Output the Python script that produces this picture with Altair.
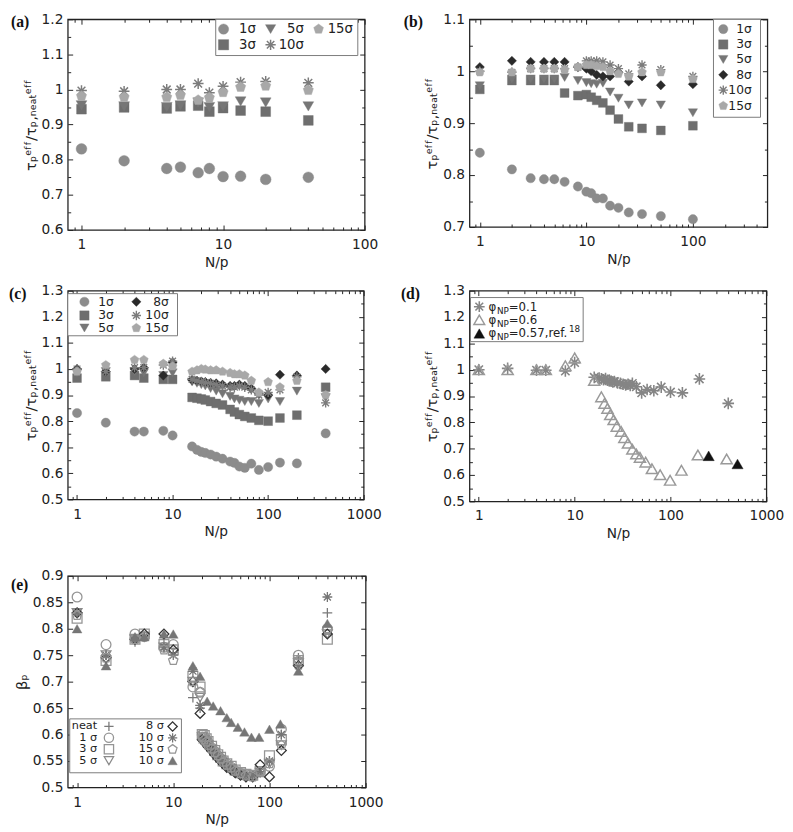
import altair as alt
import pandas as pd

SANS = "DejaVu Sans"
SERIF = "Liberation Serif"
INK = "#222222"
FS = 14
MAJ, MIN = 5, 3

ASTER = "M-1,0L1,0M0,-1L0,1M-0.72,-0.72L0.72,0.72M-0.72,0.72L0.72,-0.72"
PENTA = "M0,-1L0.951,-0.309L0.588,0.809L-0.588,0.809L-0.951,-0.309Z"
PLUS = "M-1,0L1,0M0,-1L0,1"

# ---------------- data ----------------
# panel (a)
A_X = [1, 2, 4, 5, 6.67, 8, 10, 13.3, 20, 40]
A_1 = [0.831, 0.797, 0.775, 0.779, 0.763, 0.775, 0.752, 0.753, 0.744, 0.750]
A_3 = [0.944, 0.949, 0.946, 0.952, 0.954, 0.937, 0.947, 0.940, 0.937, 0.912]
A_5 = [0.955, 0.952, 0.950, 0.955, 0.963, 0.950, 0.952, 0.966, 0.963, 0.952]
A_10 = [0.997, 0.995, 1.000, 1.000, 1.017, 0.991, 1.009, 1.021, 1.023, 1.019]
A_15 = [0.981, 0.978, 0.978, 0.984, 0.970, 0.977, 0.992, 1.007, 1.010, 0.998]

# panel (b)
B_X = [1, 2, 3, 4, 5, 6.25, 8.33, 10, 11.1, 12.5, 14.3, 16.7, 20, 25, 33.3, 50, 100]
B_1 = [0.843, 0.811, 0.794, 0.792, 0.792, 0.787, 0.778, 0.768, 0.765, 0.755, 0.755, 0.741, 0.737, 0.728, 0.725, 0.721, 0.715]
B_3 = [0.965, 0.982, 0.982, 0.982, 0.982, 0.958, 0.953, 0.955, 0.950, 0.944, 0.939, 0.925, 0.908, 0.893, 0.890, 0.886, 0.895]
B_5 = [0.972, 0.985, 0.985, 0.985, 0.985, 0.988, 0.982, 0.978, 0.976, 0.975, 0.977, 0.960, 0.948, 0.935, 0.939, 0.935, 0.920]
B_8 = [1.008, 1.020, 1.018, 1.018, 1.018, 1.018, 1.008, 1.005, 1.000, 0.993, 0.990, 0.990, 0.998, 0.980, 0.990, 0.973, 0.975]
B_10 = [1.000, 0.998, 1.005, 1.005, 1.005, 1.005, 1.008, 1.020, 1.020, 1.020, 1.018, 1.012, 1.005, 0.995, 1.012, 1.003, 0.990]
B_15 = [0.998, 0.998, 1.005, 1.005, 1.005, 1.003, 1.008, 1.012, 1.012, 1.010, 1.008, 1.000, 0.995, 0.990, 0.998, 0.998, 0.985]

# panel (c)
C_X = [1, 2, 4, 5, 8, 10, 16, 18, 20, 22, 25, 28.6, 33.3, 40, 44.4, 50, 57, 66.7, 80, 100, 133, 200, 400]
C_1 = [0.831, 0.794, 0.760, 0.760, 0.763, 0.745, 0.703, 0.690, 0.682, 0.678, 0.672, 0.664, 0.656, 0.645, 0.640, 0.626, 0.621, 0.637, 0.613, 0.624, 0.641, 0.638, 0.753]
C_3 = [0.965, 0.970, 0.975, 0.965, 0.960, 0.960, 0.891, 0.888, 0.885, 0.881, 0.875, 0.868, 0.862, 0.845, 0.835, 0.825, 0.818, 0.812, 0.803, 0.800, 0.812, 0.823, 0.930]
C_5 = [0.985, 0.990, 0.990, 0.985, 0.975, 0.985, 0.950, 0.945, 0.940, 0.935, 0.925, 0.915, 0.905, 0.895, 0.885, 0.880, 0.875, 0.875, 0.868, 0.885, 0.875, 0.915, 0.890]
C_8 = [1.000, 0.990, 1.000, 1.005, 0.975, 1.025, 0.958, 0.955, 0.952, 0.950, 0.947, 0.945, 0.940, 0.935, 0.935, 0.940, 0.935, 0.925, 0.905, 0.900, 0.978, 0.975, 1.000]
C_10 = [1.000, 0.990, 1.005, 1.005, 1.015, 1.030, 0.960, 0.955, 0.950, 0.948, 0.945, 0.940, 0.935, 0.930, 0.930, 0.935, 0.930, 0.920, 0.900, 0.910, 0.920, 0.970, 0.870]
C_15 = [0.990, 1.015, 1.035, 1.035, 1.020, 1.010, 0.990, 0.995, 1.000, 0.998, 0.995, 0.995, 0.990, 0.985, 0.980, 0.980, 0.975, 0.955, 0.910, 0.950, 0.930, 0.955, 0.900]

# panel (d)
D1_X = [1, 2, 4, 5, 8, 10, 16, 18, 19, 20, 21, 22, 23, 24, 25, 26, 28, 30, 32, 34, 36, 38, 40, 44, 50, 57, 67, 80, 100, 133, 200, 400]
D1_Y = [1.0, 1.005, 0.998, 0.998, 0.995, 1.027, 0.971, 0.968, 0.965, 0.962, 0.966, 0.960, 0.958, 0.956, 0.953, 0.955,
        0.950, 0.948, 0.945, 0.942, 0.945, 0.940, 0.948, 0.935, 0.912, 0.925, 0.920, 0.934, 0.915, 0.912, 0.965, 0.872]
D6_X = [1, 2, 4, 5, 8, 10, 16, 19, 20.5, 22, 23.5, 25.5, 27.5, 30.5, 33, 36, 40, 44, 48, 55, 64, 78, 99, 130, 193, 385]
D6_Y = [1.0, 1.0, 1.0, 1.0, 1.015, 1.045, 0.959, 0.897, 0.872, 0.853, 0.829, 0.810, 0.785, 0.766, 0.742, 0.721,
        0.698, 0.680, 0.667, 0.649, 0.624, 0.601, 0.580, 0.618, 0.676, 0.661]
D57_X = [250, 500]
D57_Y = [0.673, 0.642]

# panel (e)
E_X = [1, 2, 4, 5, 8, 10, 16, 19, 20, 21, 22, 23, 25, 27, 29, 31, 33, 36, 40, 44, 50, 57, 67, 80, 100, 133, 200, 400]
E_NEAT = [0.83, 0.75, 0.775, 0.785, 0.77, 0.755, 0.67, 0.65, 0.59, 0.588, 0.583, 0.578, 0.57, 0.563, 0.557, 0.552,
          0.547, 0.54, 0.535, 0.53, 0.525, 0.523, 0.522, 0.53, 0.55, 0.60, 0.745, 0.83]
E_1 = [0.86, 0.77, 0.79, 0.785, 0.765, 0.77, 0.69, 0.68, 0.60, 0.595, 0.59, 0.585, 0.575, 0.568, 0.56, 0.555,
       0.55, 0.545, 0.538, 0.532, 0.527, 0.525, 0.522, 0.53, 0.54, 0.61, 0.75, 0.80]
E_3 = [0.82, 0.74, 0.78, 0.79, 0.77, 0.76, 0.71, 0.69, 0.60, 0.598, 0.592, 0.587, 0.578, 0.57, 0.562, 0.557,
       0.55, 0.545, 0.54, 0.533, 0.528, 0.525, 0.523, 0.53, 0.56, 0.59, 0.74, 0.78]
E_5 = [0.83, 0.75, 0.78, 0.785, 0.765, 0.755, 0.70, 0.67, 0.595, 0.59, 0.585, 0.58, 0.572, 0.565, 0.558, 0.552,
       0.547, 0.54, 0.535, 0.528, 0.524, 0.52, 0.52, 0.528, 0.545, 0.58, 0.735, 0.79]
E_8 = [0.83, 0.745, 0.78, 0.79, 0.79, 0.76, 0.70, 0.64, 0.59, 0.587, 0.582, 0.577, 0.57, 0.562, 0.556, 0.55,
       0.545, 0.538, 0.533, 0.528, 0.523, 0.52, 0.52, 0.543, 0.52, 0.57, 0.73, 0.79]
E_10 = [0.83, 0.75, 0.78, 0.785, 0.765, 0.75, 0.72, 0.655, 0.59, 0.588, 0.584, 0.58, 0.572, 0.565, 0.56, 0.553,
        0.548, 0.542, 0.536, 0.53, 0.525, 0.523, 0.522, 0.53, 0.55, 0.60, 0.73, 0.86]
E_15 = [0.825, 0.745, 0.78, 0.785, 0.76, 0.74, 0.70, 0.68, 0.595, 0.59, 0.586, 0.58, 0.573, 0.566, 0.56, 0.554,
        0.548, 0.542, 0.537, 0.531, 0.526, 0.522, 0.52, 0.53, 0.545, 0.58, 0.74, 0.80]
E_T_X = [1, 2, 4, 5, 8, 10, 16, 19, 22.5, 26, 31, 36, 40, 47, 55, 65, 78, 100, 130, 200, 400]
E_T_Y = [0.80, 0.73, 0.785, 0.785, 0.79, 0.79, 0.73, 0.71, 0.663, 0.654, 0.645, 0.632, 0.623, 0.614, 0.605,
         0.595, 0.595, 0.61, 0.62, 0.72, 0.81]

# tick values
XT_100 = [1, 10, 100]
XT_1000 = [1, 10, 100, 1000]
XM_100 = [0.9, 2, 3, 4, 5, 6, 7, 8, 9, 20, 30, 40, 50, 60, 70, 80, 90]
XM_500 = XM_100 + [200, 300, 400]
XM_1000 = XM_500 + [500, 600, 700, 800, 900]
YT_A = [0.6, 0.7, 0.8, 0.9, 1.0, 1.1, 1.2]
YM_A = [0.65, 0.75, 0.85, 0.95, 1.05, 1.15]
YT_B = [0.7, 0.8, 0.9, 1.0, 1.1]
YM_B = [0.75, 0.85, 0.95, 1.05]
YT_C = [0.5, 0.6, 0.7, 0.8, 0.9, 1.0, 1.1, 1.2, 1.3]
YM_C = [0.55, 0.65, 0.75, 0.85, 0.95, 1.05, 1.15, 1.25]
YT_E = [0.5, 0.55, 0.6, 0.65, 0.7, 0.75, 0.8, 0.85, 0.9]

TAU_TITLE = "τₚᵉᶠᶠ/τₚ,ₙₑₐₜᵉᶠᶠ"
BETA_TITLE = "βₚ"

# series styles: shape, colour, filled
G1, G3, G5, G8, G10, G15 = "#8c8c8c", "#6e6e6e", "#767676", "#2a2a2a", "#7c7c7c", "#a8a8a8"
STY = {
    "1": ("circle", G1, True),
    "3": ("square", G3, True),
    "5": ("triangle-down", G5, True),
    "8": ("diamond", G8, True),
    "10": (ASTER, G10, False),
    "15": (PENTA, G15, True),
}

ONE = pd.DataFrame({"k": [0]})


def point_mark(data, shape, color, filled, size, sw=1.2):
    if filled:
        return alt.Chart(data).mark_point(shape=shape, filled=True, fill=color, stroke=color,
                                          strokeWidth=0.4, size=size, opacity=1)
    return alt.Chart(data).mark_point(shape=shape, filled=False, stroke=color,
                                      strokeWidth=sw, size=size, opacity=1)


def pts(xv, yv, shape, color, filled, size, xs, ys, sw=1.2):
    df = pd.DataFrame({"x": xv, "y": yv})
    return point_mark(df, shape, color, filled, size, sw).encode(
        x=alt.X("x:Q", scale=xs, axis=None), y=alt.Y("y:Q", scale=ys, axis=None))


def sym(px, py, shape, color, filled, size, sw=1.2):
    return point_mark(ONE, shape, color, filled, size, sw).encode(x=alt.value(px), y=alt.value(py))


def txt(px, py, s, align="left", size=FS, font=SANS, weight="normal", baseline="middle", color=INK):
    return alt.Chart(ONE).mark_text(text=s, align=align, baseline=baseline, fontSize=size, font=font,
                                    fontWeight=weight, color=color).encode(x=alt.value(px), y=alt.value(py))


def box(x0, y0, x1, y1):
    return alt.Chart(ONE).mark_rect(fill="white", stroke="#7a7a7a", strokeWidth=1).encode(
        x=alt.value(x0), x2=alt.value(x1), y=alt.value(y0), y2=alt.value(y1))


def axis_layers(xs, ys, xdom, ydom, xmaj, xmin, ymaj, ymin, ytitle, tsize=15):
    df0 = pd.DataFrame({"x": [xdom[0]], "y": [ydom[0]]})
    base = alt.Chart(df0).mark_point(opacity=0, size=1)

    def xl(ax):
        return base.encode(x=alt.X("x:Q", scale=xs, axis=ax), y=alt.Y("y:Q", scale=ys, axis=None))

    def yl(ax):
        return base.encode(x=alt.X("x:Q", scale=xs, axis=None), y=alt.Y("y:Q", scale=ys, axis=ax))

    out = [
        xl(alt.Axis(orient="bottom", values=xmaj, format="~g", offset=-MAJ, tickSize=MAJ, domain=False,
                    grid=False, labelPadding=8, labelFlush=False, title="N/p", titlePadding=4)),
        xl(alt.Axis(orient="top", values=xmaj, offset=-MAJ, tickSize=MAJ, labels=False, domain=False,
                    grid=False, title=None)),
        yl(alt.Axis(orient="left", values=ymaj, format="~g", offset=-MAJ, tickSize=MAJ, domain=False,
                    grid=False, labelPadding=5, labelFlush=False, title=ytitle, titlePadding=3,
                    titleFontSize=tsize)),
        yl(alt.Axis(orient="right", values=ymaj, offset=-MAJ, tickSize=MAJ, labels=False, domain=False,
                    grid=False, title=None)),
    ]
    if xmin:
        out += [
            xl(alt.Axis(orient="bottom", values=xmin, offset=-MIN, tickSize=MIN, labels=False, domain=False,
                        grid=False, title=None)),
            xl(alt.Axis(orient="top", values=xmin, offset=-MIN, tickSize=MIN, labels=False, domain=False,
                        grid=False, title=None)),
        ]
    if ymin:
        out += [
            yl(alt.Axis(orient="left", values=ymin, offset=-MIN, tickSize=MIN, labels=False, domain=False,
                        grid=False, title=None)),
            yl(alt.Axis(orient="right", values=ymin, offset=-MIN, tickSize=MIN, labels=False, domain=False,
                        grid=False, title=None)),
        ]
    return out


def scales(xdom, ydom):
    return (alt.Scale(type="log", domain=xdom, nice=False),
            alt.Scale(domain=ydom, nice=False, zero=False))


def finish(layers, w, h):
    return alt.layer(*layers).resolve_axis(x="independent", y="independent").properties(width=w, height=h)


def plabel(px, py, s):
    return txt(px, py, s, font=SERIF, weight="bold", size=16, baseline="top", color="#111")


# ---------------- panel (a) ----------------
xa, ya = scales([0.8, 100], [0.6, 1.2])
La = axis_layers(xa, ya, [0.8, 100], [0.6, 1.2], XT_100, XM_100, YT_A, YM_A, TAU_TITLE)
for key, yv in [("1", A_1), ("3", A_3), ("5", A_5), ("10", A_10), ("15", A_15)]:
    sh, c, f = STY[key]
    La.append(pts(A_X, yv, sh, c, f, 121 if key != "3" else 100, xa, ya, 1.5))
La += [box(151, 0, 296, 37)]
for px, py, key, lx, lab in [(159, 10, "1", 192, "1σ"), (207, 10, "5", 241, "5σ"), (256, 10, "15", 291, "15σ"),
                             (159, 26, "3", 192, "3σ"), (207, 26, "10", 241, "10σ")]:
    sh, c, f = STY[key]
    La += [sym(px, py, sh, c, f, 110, 1.5), txt(lx, py, lab, align="right", size=13.5)]
La.append(plabel(-58, -5, "(a)"))
pa = finish(La, 303, 215)

# ---------------- panel (b) ----------------
xb, yb = scales([0.8, 500], [0.7, 1.1])
Lb = axis_layers(xb, yb, [0.8, 500], [0.7, 1.1], XT_100, XM_500, YT_B, YM_B, TAU_TITLE)
for key, yv in [("1", B_1), ("3", B_3), ("5", B_5), ("8", B_8), ("10", B_10), ("15", B_15)]:
    sh, c, f = STY[key]
    Lb.append(pts(B_X, yv, sh, c, f, 90 if key != "3" else 81, xb, yb, 1.4))
Lb += [box(249, 0, 297, 100)]
for py, key in zip([10, 25.7, 41, 56.7, 72.3, 88.3], ["1", "3", "5", "8", "10", "15"]):
    sh, c, f = STY[key]
    Lb += [sym(259, py, sh, c, f, 90, 1.4), txt(288, py, key + "σ", align="right", size=12.5)]
Lb.append(plabel(-67, -5, "(b)"))
pb = finish(Lb, 304, 212)

# ---------------- panel (c) ----------------
xc, yc = scales([0.8, 1000], [0.5, 1.3])
Lc = axis_layers(xc, yc, [0.8, 1000], [0.5, 1.3], XT_1000, XM_1000, YT_C, YM_C, TAU_TITLE)
for key, yv in [("1", C_1), ("3", C_3), ("5", C_5), ("8", C_8), ("10", C_10), ("15", C_15)]:
    sh, c, f = STY[key]
    Lc.append(pts(C_X, yv, sh, c, f, 90 if key != "3" else 81, xc, yc, 1.4))
Lc += [box(0, 3, 112, 46)]
for px, py, key, lx in [(17, 11.3, "1", 47), (17, 25.3, "3", 47), (17, 38, "5", 47),
                        (70, 11.3, "8", 103), (70, 25.3, "10", 103), (70, 38, "15", 103)]:
    sh, c, f = STY[key]
    Lc += [sym(px, py, sh, c, f, 90, 1.4), txt(lx, py, key + "σ", align="right", size=12.5)]
Lc.append(plabel(-60, -5, "(c)"))
pc = finish(Lc, 302, 213)

# ---------------- panel (d) ----------------
xd, yd = scales([0.8, 1000], [0.5, 1.3])
Ld = axis_layers(xd, yd, [0.8, 1000], [0.5, 1.3], XT_1000, XM_1000, YT_C, YM_C, TAU_TITLE)
Ld.append(pts(D1_X, D1_Y, ASTER, "#858585", False, 140, xd, yd, 1.6))
Ld.append(pts(D6_X, D6_Y, "triangle-up", "#9a9a9a", False, 130, xd, yd, 1.5))
Ld.append(pts(D57_X, D57_Y, "triangle-up", "#111111", True, 130, xd, yd))
Ld += [box(1, 7, 116, 52)]
Ld += [sym(10, 16.3, ASTER, "#858585", False, 120, 1.6),
       sym(10, 29.7, "triangle-up", "#9a9a9a", False, 120, 1.5),
       sym(10, 43.7, "triangle-up", "#111111", True, 120)]
for py, rest in [(16.3, "=0.1"), (29.7, "=0.6"), (43.7, "=0.57,ref.")]:
    Ld += [txt(19.5, py, "φ", size=12), txt(28, py + 4, "NP", size=9), txt(40, py, rest, size=12)]
Ld.append(txt(101.5, 39, "18", size=9))
Ld.append(plabel(-70, -5, "(d)"))
pd_ = finish(Ld, 303, 215)

# ---------------- panel (e) ----------------
xe, ye = scales([0.8, 1000], [0.5, 0.9])
Le = axis_layers(xe, ye, [0.8, 1000], [0.5, 0.9], XT_1000, XM_1000, YT_E, [], BETA_TITLE, tsize=15)
E_SER = [
    (E_X, E_NEAT, PLUS, "#7a7a7a", False),
    (E_X, E_1, "circle", "#959595", False),
    (E_X, E_3, "square", "#959595", False),
    (E_X, E_5, "triangle-down", "#8a8a8a", False),
    (E_X, E_8, "diamond", "#333333", False),
    (E_X, E_10, ASTER, "#757575", False),
    (E_X, E_15, PENTA, "#959595", False),
    (E_T_X, E_T_Y, "triangle-up", "#767676", True),
]
for xv, yv, sh, c, f in E_SER:
    Le.append(pts(xv, yv, sh, c, f, 100, xe, ye, 1.3))
Le += [box(2, 146, 116, 201)]
ley = [153.7, 165.3, 177, 188.7]
for i, (lab, k) in enumerate([("neat", 0), ("1 σ", 1), ("3 σ", 2), ("5 σ", 3)]):
    _, _, sh, c, f = E_SER[k]
    Le += [txt(30, ley[i], lab, align="right", size=11.5), sym(42, ley[i], sh, c, f, 90, 1.3)]
for i, (lab, k) in enumerate([("8 σ", 4), ("10 σ", 5), ("15 σ", 6), ("10 σ", 7)]):
    _, _, sh, c, f = E_SER[k]
    Le += [txt(98, ley[i], lab, align="right", size=11.5), sym(107, ley[i], sh, c, f, 90, 1.3)]
Le.append(plabel(-58, 1, "(e)"))
pe = finish(Le, 304, 216)

row1 = alt.hconcat(pa, pb, spacing=24)
row2 = alt.hconcat(pc, pd_, spacing=18)
top = alt.vconcat(row1, row2, spacing=13)
chart = alt.vconcat(top, pe, spacing=27).properties(
    padding={"top": -5, "left": 0, "right": 0, "bottom": 0})
chart = chart.configure_axis(
    labelFont=SANS, titleFont=SANS, labelFontSize=FS, titleFontSize=FS, labelColor=INK, titleColor=INK,
    tickColor=INK, tickWidth=1, titleFontWeight="normal"
).configure_view(stroke=INK, strokeWidth=1.3)

chart.save("out.html", embed_options={"renderer": "svg", "actions": False})
